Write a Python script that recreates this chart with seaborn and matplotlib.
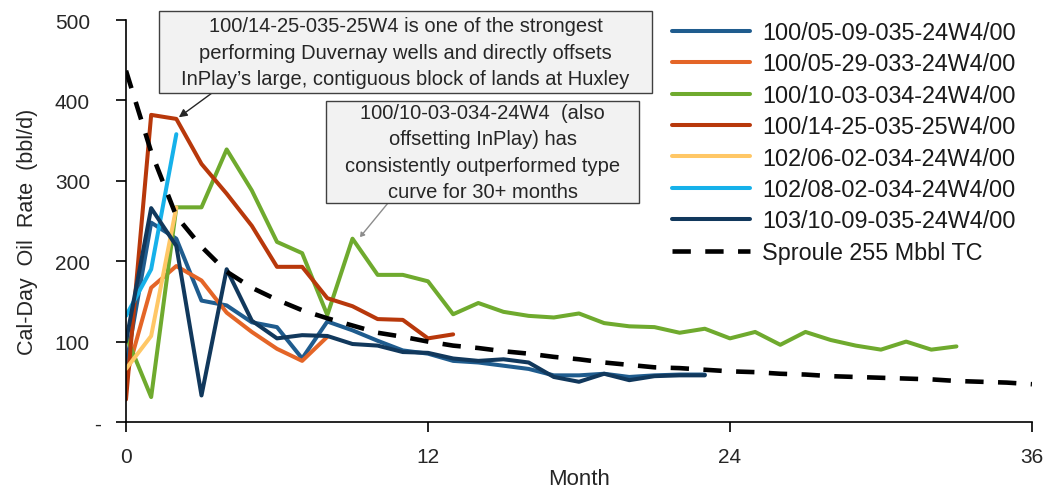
import matplotlib
matplotlib.use('Agg')

import pandas as pd
import matplotlib.pyplot as plt
import seaborn as sns
from matplotlib import transforms
from matplotlib.patches import Rectangle
from matplotlib.ticker import FuncFormatter

sns.set_style('white')
plt.rcParams['font.family'] = ['Liberation Sans', 'DejaVu Sans']

# 数据 (bbl/d, one value per month starting at month 0)
wells = [
    '100/05-09-035-24W4/00',
    '100/05-29-033-24W4/00',
    '100/10-03-034-24W4/00',
    '100/14-25-035-25W4/00',
    '102/06-02-034-24W4/00',
    '102/08-02-034-24W4/00',
    '103/10-09-035-24W4/00',
]
colors = ['#1F5C8E', '#E46527', '#6FAA2E', '#B8380B', '#FFC766', '#16B1EA', '#11385C']

rate_100_05_09 = [70, 248, 228, 151, 145, 124, 118, 79, 125, 114, 101, 89, 85, 76, 74,
                  70, 66, 58, 58, 60, 56, 58, 59, 59]
rate_100_05_29 = [55, 167, 194, 176, 136, 112, 91, 76, 106]
rate_100_10_03 = [107, 31, 267, 267, 339, 288, 224, 210, 133, 228, 183, 183, 175, 134, 148,
                  137, 132, 130, 135, 123, 119, 118, 111, 116, 104, 112, 96, 112, 102, 95,
                  90, 100, 90, 94]
rate_100_14_25 = [28, 382, 377, 321, 284, 244, 193, 193, 154, 144, 128, 127, 104, 109]
rate_102_06_02 = [66, 107, 267]
rate_102_08_02 = [132, 190, 358]
rate_103_10_09 = [100, 266, 219, 33, 190, 126, 104, 108, 107, 97, 95, 87, 86, 79, 76,
                  78, 74, 56, 50, 60, 52, 57, 58, 58]
rates = [rate_100_05_09, rate_100_05_29, rate_100_10_03, rate_100_14_25,
         rate_102_06_02, rate_102_08_02, rate_103_10_09]

tc_label = 'Sproule 255 Mbbl TC'
tc_month = list(range(37))
tc_rate = [437, 336, 256, 218, 187, 167, 152, 139, 129, 120, 111, 106, 100, 95, 92,
           88, 85, 81, 78, 74, 71, 68, 67, 65, 63, 62, 60, 59, 57, 56, 55, 54, 53,
           51, 50, 49, 47]

note1 = ('100/14-25-035-25W4 is one of the strongest\n'
         'performing Duvernay wells and directly offsets\n'
         'InPlay\u2019s large, contiguous block of lands at Huxley')
note2 = ('100/10-03-034-24W4  (also\n'
         'offsetting InPlay) has\n'
         'consistently outperformed type\n'
         'curve for 30+ months')

df = pd.concat([
    pd.DataFrame({'Month': range(len(v)), 'Rate': v, 'Well': w})
    for w, v in zip(wells, rates)
])

fig = plt.figure(figsize=(10.57, 4.89), dpi=100)
ax = fig.add_axes([0.1192, 0.135, 0.8571, 0.822])

sns.lineplot(data=df, x='Month', y='Rate', hue='Well', hue_order=wells,
             palette=colors, lw=2.9, errorbar=None, ax=ax,
             solid_joinstyle='round')
sns.lineplot(x=tc_month, y=tc_rate, color='black', lw=3.3,
             linestyle=(0, (4.0, 3.15)), label=tc_label, ax=ax)

# 坐标轴
ax.set_xlim(0, 36)
ax.set_ylim(0, 500)
ax.set_xticks([0, 12, 24, 36])
ax.set_yticks(range(0, 501, 100))
ax.yaxis.set_major_formatter(FuncFormatter(lambda v, p: '-' if v == 0 else f'{v:.0f}'))
sns.despine(ax=ax)
for s in ['left', 'bottom']:
    ax.spines[s].set_color('black')
    ax.spines[s].set_linewidth(1.2)
ax.tick_params(bottom=True, left=True, direction='out', length=7, width=1.2,
               color='black', labelcolor='#262626', labelsize=15)
ax.tick_params(axis='y', pad=19)
ax.tick_params(axis='x', pad=11)

ax.set_xlabel('Month', fontsize=16, color='#262626')
ax.set_ylabel('Cal-Day  Oil  Rate  (bbl/d)', fontsize=15.5, color='#262626')
ax.xaxis.set_label_coords(0.5, -0.115)
ax.yaxis.set_label_coords(-0.097, 0.475)

# 注释框
for (x0, y0, w, h) in [(0.1504, 0.8078, 0.4664, 0.1677), (0.3084, 0.5828, 0.2961, 0.2086)]:
    fig.add_artist(Rectangle((x0, y0), w, h, transform=fig.transFigure,
                             fc='#F2F2F2', ec='#404040', lw=1, zorder=5))
fig.text(0.3836, 0.8916, note1, ha='center', va='center', fontsize=14.5,
         linespacing=1.47, color='#262626', zorder=6)
fig.text(0.4565, 0.6871, note2, ha='center', va='center', fontsize=14.5,
         linespacing=1.47, color='#262626', zorder=6)
ax.annotate('', xy=(2.1, 379), xytext=(212 / 1057, 1 - 94 / 489),
            textcoords='figure fraction',
            arrowprops=dict(arrowstyle='-|>', color='#262626', lw=1,
                            shrinkA=0, shrinkB=0, mutation_scale=12))
ax.annotate('', xy=(9.3, 230), xytext=(388 / 1057, 1 - 204 / 489),
            textcoords='figure fraction',
            arrowprops=dict(arrowstyle='-|>,head_length=0.3,head_width=0.2',
                            color='#8C8C8C', lw=1, shrinkA=0, shrinkB=0,
                            mutation_scale=8))

# 图例
handles, labels = ax.get_legend_handles_labels()
leg = ax.legend(handles, labels, loc='upper left', bbox_to_anchor=(0.636, 0.955),
                bbox_transform=fig.transFigure, frameon=False, fontsize=16.8,
                handlelength=3.35, handletextpad=0.5, labelspacing=0.36,
                borderpad=0, borderaxespad=0)
for t in leg.get_texts():
    t.set_color('#1A1A1A')

# "-" 标签向右移
lab0 = ax.yaxis.get_major_ticks()[0].label1
lab0.set_transform(lab0.get_transform() + transforms.ScaledTranslation(0.11, 0, fig.dpi_scale_trans))

fig.savefig('out.png', dpi=100)
plt.close(fig)
